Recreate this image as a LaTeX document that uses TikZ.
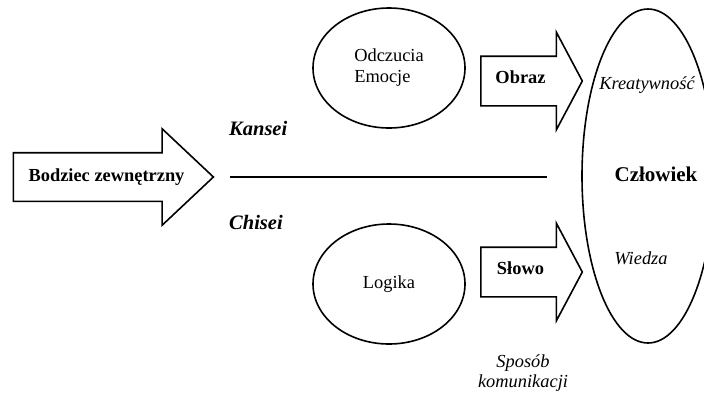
\documentclass[tikz,border=0pt]{standalone}
\usepackage{fontspec}
\setmainfont{Liberation Serif}
\usetikzlibrary{shapes,shapes.arrows,positioning,calc}

\tikzset{
    txt/.style = {inner sep=0pt, font=\fontsize{18.4}{21}\selectfont},
    txtb/.style = {inner sep=0pt, font=\fontsize{18.4}{21}\selectfont\bfseries},
    txti/.style = {inner sep=0pt, font=\fontsize{18.4}{20}\selectfont\itshape},
    side/.style = {inner sep=0pt, anchor=west, font=\fontsize{20.5}{24}\selectfont\bfseries\itshape},
    blob/.style = {draw, ellipse, line width=1.6pt, inner sep=0pt},
    fat/.style = {draw, single arrow, line width=1.6pt, inner xsep=0pt,
        single arrow head extend=24pt, anchor=tail}
}

\begin{document}
\begin{tikzpicture}[x=1pt, y=-1pt]
        \useasboundingbox (0,0) rectangle (704,392);
        % stimulus
        \node [fat, inner ysep=23.5pt, minimum height=200pt, single arrow tip angle=86.5] (bodziec) at (12.6,177) {};
        \node [txtb] (bodziec-t) at (106.5,177) {Bodziec zewnętrzny};
        \coordinate (lineL) at (230,177);
        \coordinate (lineR) at (547,177);
        \draw [line width=1.3pt] (lineL) -- (lineR);
        \node [side] (kansei) at (229,128) {Kansei};
        \node [side] (chisei) at (229,222) {Chisei};
        % two ways
        \node [blob, txt, align=left, minimum width=152pt, minimum height=120pt] (emocje) at (389,68) {Odczucia\\Emocje};
        \node [blob, txt, minimum width=152pt, minimum height=120pt] (logika) at (389,284) {Logika};
        \foreach \n/\y/\t in {obraz/81/Obraz, slowo/272/Słowo}{
            \node [fat, inner ysep=24pt, minimum height=101.5pt, single arrow tip angle=124] (\n) at (480,\y) {};
            \node [txtb] (\n-t) at ($(\n.tail)+(40.5,-4)$) {\t};
        }
        \node [txti, align=center] (sposob) at (523,373) {Sposób\\komunikacji};
        % human
        \node [blob, minimum width=132pt, minimum height=334pt] (czlowiek) at (648,176) {};
        \node [inner sep=0pt, font=\fontsize{21}{24}\selectfont\bfseries] (czlowiek-t) at (656,174) {Człowiek};
        \node [txti] (kreat) at (647,85) {Kreatywność};
        \node [txti] (wiedza) at (641,258) {Wiedza};
\end{tikzpicture}
\end{document}
